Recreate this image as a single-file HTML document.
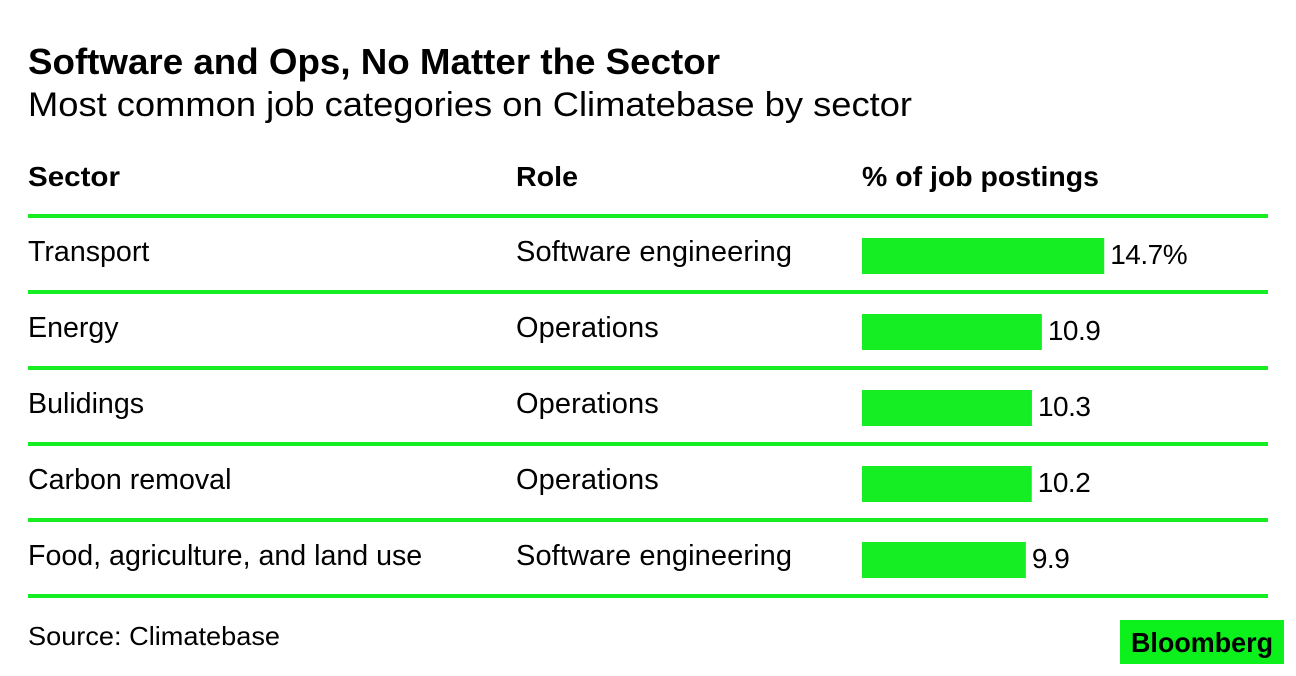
<!DOCTYPE html>
<html lang="en">
<head>
<meta charset="utf-8">
<title>Software and Ops, No Matter the Sector</title>
<style>
  html, body { margin: 0; padding: 0; background: #ffffff; }
  body { width: 1296px; height: 676px; overflow: hidden; }
  svg { display: block; font-family: "Liberation Sans", Arial, sans-serif; fill: #000; }
  .title { font-size: 36px; font-weight: 700; }
  .subtitle { font-size: 34px; }
  .head { font-size: 28px; font-weight: 700; }
  .cell { font-size: 28.6px; letter-spacing: 0; }
  .role { font-size: 29px; letter-spacing: 0.1px; }
  .value { font-size: 28px; letter-spacing: -0.5px; }
  .source { font-size: 26px; }
  .logo { font-size: 28px; font-weight: 700; }
</style>
</head>
<body>
<svg id="chart" width="1296" height="676" viewBox="0 0 1296 676" xmlns="http://www.w3.org/2000/svg">
  <text class="title" x="28" y="74" textLength="692" lengthAdjust="spacingAndGlyphs">Software and Ops, No Matter the Sector</text>
  <text class="subtitle" x="28" y="116" textLength="884" lengthAdjust="spacingAndGlyphs">Most common job categories on Climatebase by sector</text>
  <text class="head" x="28" y="186" textLength="92" lengthAdjust="spacingAndGlyphs">Sector</text>
  <text class="head" x="516" y="186" textLength="62" lengthAdjust="spacingAndGlyphs">Role</text>
  <text class="head" x="862" y="186" textLength="237" lengthAdjust="spacingAndGlyphs">% of job postings</text>
  <rect x="28" y="214" width="1240" height="4" fill="#16ee24"></rect>
  <g id="rows"></g>
  <text class="source" x="28" y="645" textLength="252" lengthAdjust="spacingAndGlyphs">Source: Climatebase</text>
  <rect x="1120" y="620" width="164" height="44" fill="#0cf01c"></rect>
  <text class="logo" x="1131" y="652" textLength="142" lengthAdjust="spacingAndGlyphs">Bloomberg</text>
</svg>
<script>
const sectors = ["Transport", "Energy", "Bulidings", "Carbon removal", "Food, agriculture, and land use"];
const roles = ["Software engineering", "Operations", "Operations", "Operations", "Software engineering"];
const shares = [14.68, 10.9, 10.3, 10.29, 9.93];
const shareLabels = ["14.7%", "10.9", "10.3", "10.2", "9.9"];

const SVG_NS = "http://www.w3.org/2000/svg";
const GREEN = "#16ee24";
const barLeft = 862;
const pxPerPoint = 16.5;
const rowTop = 218;
const rowStep = 76;
const rowsGroup = document.getElementById("rows");

function xScale(v) { return barLeft + v * pxPerPoint; }
function rowY(i) { return rowTop + i * rowStep; }

function addText(cls, x, y, str) {
  const t = document.createElementNS(SVG_NS, "text");
  t.setAttribute("class", cls);
  t.setAttribute("x", x);
  t.setAttribute("y", y);
  t.textContent = str;
  rowsGroup.appendChild(t);
  return t;
}

function addRect(x, y, w, h) {
  const r = document.createElementNS(SVG_NS, "rect");
  r.setAttribute("x", x);
  r.setAttribute("y", y);
  r.setAttribute("width", w);
  r.setAttribute("height", h);
  r.setAttribute("fill", GREEN);
  rowsGroup.appendChild(r);
  return r;
}

sectors.forEach(function (sector, i) {
  const top = rowY(i);

  const sectorText = addText("cell", 28, top + 43, sector);
  
  

  const roleText = addText("role", 516, top + 43, roles[i]);
  
  

  const bar = addRect(barLeft, top + 20, xScale(shares[i]) - barLeft, 36);
  
  

  const valueText = addText("value", xScale(shares[i]) + 6, top + 46, shareLabels[i]);
  
  

  const rule = addRect(28, top + 72, 1240, 4);
  
  
});
</script>
</body>
</html>
